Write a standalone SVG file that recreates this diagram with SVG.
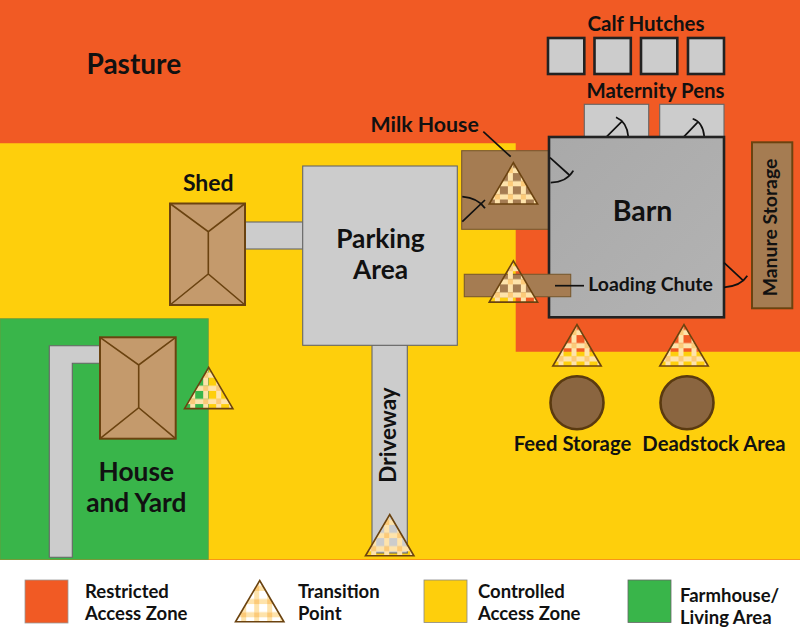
<svg xmlns="http://www.w3.org/2000/svg" xmlns:xlink="http://www.w3.org/1999/xlink" width="800" height="637" viewBox="0 0 800 637">
<style>
text{font-family:"Lato","Liberation Sans",sans-serif;font-weight:700;fill:#111}
.m{text-anchor:middle}
.gray{fill:#ccc;stroke:#666;stroke-width:1.1}
.hut{fill:#ccc;stroke:#222;stroke-width:2.6}
.roof{fill:#c49a6c;stroke:#6b4310;stroke-width:2}
.ridge{fill:none;stroke:#6b4310;stroke-width:1.6}
.door{fill:none;stroke:#111;stroke-width:1.7}
.brown{fill:#a57c52;stroke:#7a5a30;stroke-width:1.1}
.silo{fill:#8a6540;stroke:#5a3a10;stroke-width:2.6}
.tri{fill:url(#check);stroke:#6b4310;stroke-width:1.6}
.lead{fill:none;stroke:#111;stroke-width:1.7}
.leg{font-size:18.5px}
</style>
<defs>
<pattern id="check" patternUnits="userSpaceOnUse" x="-0.5" y="10.4" width="13" height="13.2">
<rect x="8" y="0" width="5" height="8" fill="#fee3ab"/>
<rect x="0" y="8" width="8" height="5.2" fill="#fee3ab"/>
<rect x="8" y="8" width="5" height="5.2" fill="#fcca78"/>
</pattern>
<path id="t" class="tri" d="M0,0L24.2,41.3H-24.2Z"/>
<linearGradient id="barnG" x1="0" y1="0" x2="1" y2="1"><stop offset="0" stop-color="#a9a9a9"/><stop offset="1" stop-color="#b3b3b3"/></linearGradient>
</defs>

<g id="zones">
<rect x="0" y="0" width="800" height="560" fill="#f15a24"/>
<path d="M0,143.3H515.7V351.7H800V559.5H0Z" fill="#fecf0c"/>
<rect id="zone-house" x="0" y="318.7" width="208.3" height="240.8" fill="#39b54a" stroke="#6f9a3a" stroke-width="0.8"/>
</g>

<g id="shed">
<rect class="gray" x="245" y="222" width="58" height="27"/>
<rect class="roof" x="170" y="203.5" width="75" height="101.5"/>
<path class="ridge" d="M170,203.5L208.3,231.7L245,203.5M170,305L208.3,274L245,305M208.3,231.7V274"/>
<text x="208.3" y="191" class="m" font-size="23">Shed</text>
</g>

<g id="driveway">
<rect class="gray" x="372" y="345" width="35.3" height="208"/>
<text transform="translate(396,435) rotate(-90)" class="m" font-size="22.5">Driveway</text>
</g>

<g id="parking-area">
<rect class="gray" x="302.7" y="166" width="154.6" height="179.3"/>
<text x="380.5" y="248" class="m" font-size="26.3">Parking</text>
<text x="380.5" y="279" class="m" font-size="26.3">Area</text>
</g>

<g id="house">
<path class="gray" d="M49.3,345.7H100V363.3H72.3V557.3H49.3Z"/>
<rect class="roof" x="100" y="337.3" width="75.7" height="101.4"/>
<path class="ridge" d="M100,337.3L138.7,365L175.7,337.3M100,438.7L138.7,407.7L175.7,438.7M138.7,365V407.7"/>
<text x="136.3" y="480.5" class="m" font-size="26.3">House</text>
<text x="136.3" y="511.5" class="m" font-size="26.3">and Yard</text>
</g>

<g id="pasture"><text x="86.5" y="74" font-size="28">Pasture</text></g>

<g id="calf-hutches">
<rect class="hut" x="548" y="38" width="36.3" height="36"/>
<rect class="hut" x="594.5" y="38" width="36.3" height="36"/>
<rect class="hut" x="641" y="38" width="36.3" height="36"/>
<rect class="hut" x="688" y="38" width="36" height="36"/>
<text x="646" y="30.7" class="m" font-size="20.5">Calf Hutches</text>
</g>

<g id="maternity-pens">
<rect class="gray" x="584.3" y="104.3" width="64.4" height="33"/>
<rect class="gray" x="659.7" y="104.3" width="64.3" height="33"/>
<path class="door" d="M606.7,136.7L621.7,121.7M616,117.3Q627,122 628.3,136.7"/>
<path class="door" d="M684,136.7L698.3,121.7M692.7,118.7Q703,122 704.3,136.7"/>
<text x="655.5" y="98" class="m" font-size="20.4">Maternity Pens</text>
</g>

<g id="milk-house">
<rect class="brown" x="461.7" y="150.7" width="87.3" height="78.6"/>
<path class="door" d="M462.3,221.7L485,200M462.3,196.7Q478,198 485,208.3"/>
<text x="370.5" y="131.5" font-size="21.3">Milk House</text>
</g>

<g id="barn">
<rect x="549" y="137" width="175" height="180.3" fill="url(#barnG)" stroke="#222" stroke-width="2.6"/>
<path class="door" d="M550,157.7L569.3,175M573.3,170.7Q567,182 550.7,182.7"/>
<path class="door" d="M724,262.7L743.3,280.7M747.3,275.7Q741,286 724,287.3"/>
<text x="642.5" y="220.5" class="m" font-size="28.5">Barn</text>
</g>

<g id="manure-storage">
<rect x="752" y="142.3" width="40.3" height="166" fill="#a57c52" stroke="#6b4310" stroke-width="2"/>
<text transform="translate(777,227.5) rotate(-90)" class="m" font-size="19.4">Manure Storage</text>
</g>

<g id="loading-chute">
<rect class="brown" x="464.3" y="274.3" width="106.4" height="22.4"/>
<text x="588.3" y="291" font-size="19.4">Loading Chute</text>
</g>

<g id="feed-storage">
<circle class="silo" cx="577" cy="402.7" r="26.5"/>
<text x="572.5" y="450.7" class="m" font-size="20.3">Feed Storage</text>
</g>
<g id="deadstock-area">
<circle class="silo" cx="687" cy="402.7" r="26.5"/>
<text x="714" y="450.7" class="m" font-size="20.3">Deadstock Area</text>
</g>

<g id="connectors">
<path class="lead" d="M483.3,131.7L510.7,156.7"/>
<path class="lead" d="M555,285.7H584"/>
</g>

<g id="transition-points">
<use xlink:href="#t" href="#t" transform="translate(513.4,162.7)"/>
<use xlink:href="#t" href="#t" transform="translate(513.4,260.8)"/>
<use xlink:href="#t" href="#t" transform="translate(577,324.7)"/>
<use xlink:href="#t" href="#t" transform="translate(684,324.7)"/>
<use xlink:href="#t" href="#t" transform="translate(389.7,514.5)"/>
<use xlink:href="#t" href="#t" transform="translate(208.7,367.3)"/>
</g>

<g id="legend">
<g id="legend-restricted">
<rect x="25" y="580" width="43" height="43" fill="#f15a24" stroke="#999" stroke-width="0.8"/>
<text class="leg" x="85" y="598">Restricted</text><text class="leg" x="85" y="620">Access Zone</text>
</g>
<g id="legend-transition">
<use xlink:href="#t" href="#t" transform="translate(259.7,580.5)"/>
<text class="leg" x="298" y="598">Transition</text><text class="leg" x="298" y="620">Point</text>
</g>
<g id="legend-controlled">
<rect x="424" y="580" width="43" height="42.5" fill="#fecf0c" stroke="#888" stroke-width="0.8"/>
<text class="leg" x="478" y="598">Controlled</text><text class="leg" x="478" y="620">Access Zone</text>
</g>
<g id="legend-farmhouse">
<rect x="628" y="580" width="43" height="42.5" fill="#39b54a" stroke="#666" stroke-width="0.8"/>
<text class="leg" x="680" y="601.5">Farmhouse/</text><text class="leg" x="680" y="623.5">Living Area</text>
</g>
</g>
</svg>
